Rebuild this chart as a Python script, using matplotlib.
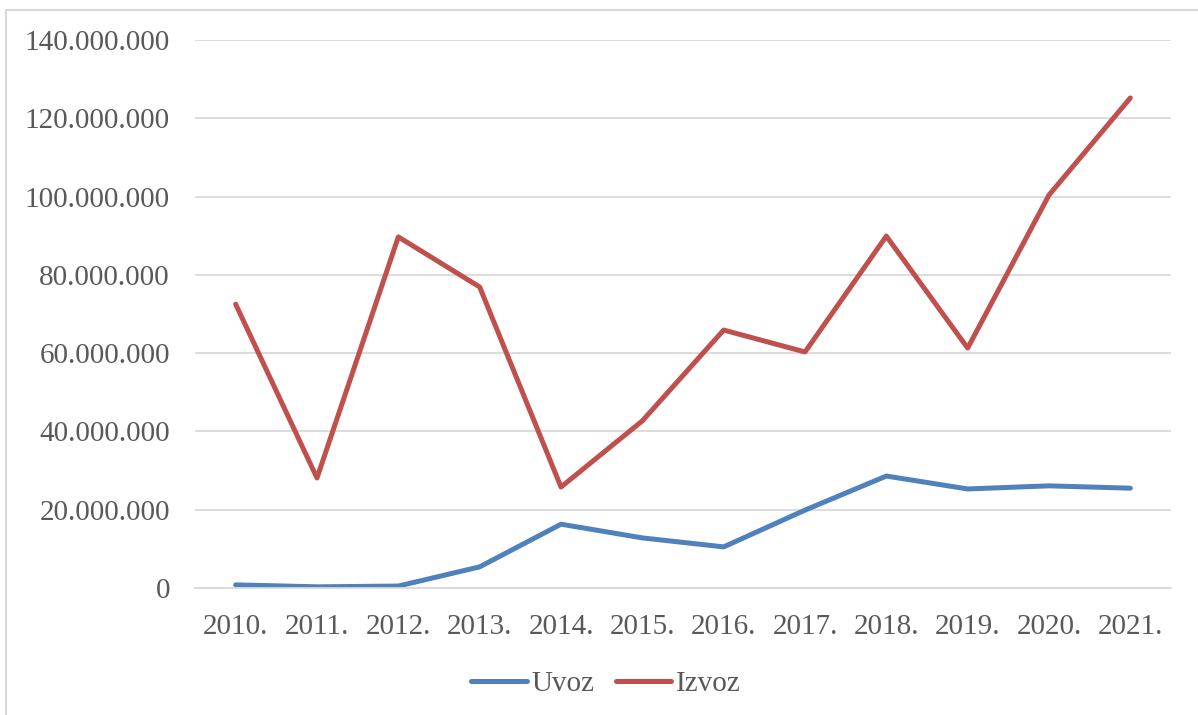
import matplotlib.pyplot as plt
from matplotlib.patches import Rectangle
from matplotlib.ticker import FuncFormatter

godine = ["2010.", "2011.", "2012.", "2013.", "2014.", "2015.",
          "2016.", "2017.", "2018.", "2019.", "2020.", "2021."]
uvoz = [0.8e6, 0.3e6, 0.5e6, 5.4e6, 16.3e6, 12.8e6,
        10.5e6, 19.9e6, 28.6e6, 25.3e6, 26.1e6, 25.5e6]
izvoz = [72.5e6, 28.1e6, 89.7e6, 76.9e6, 25.8e6, 42.7e6,
         65.9e6, 60.3e6, 89.9e6, 61.3e6, 100.4e6, 125.2e6]

plt.rcParams['font.family'] = ['Liberation Serif', 'DejaVu Serif']
txt = '#595959'

fig = plt.figure(figsize=(11.98, 7.15), dpi=100)
ax = fig.add_axes([195 / 1198, 1 - 588 / 715, 976 / 1198, 548 / 715])

x = range(len(godine))
ax.plot(x, uvoz, color='#4F81BD', lw=3.6, solid_capstyle='round', label='Uvoz')
ax.plot(x, izvoz, color='#C0504D', lw=3.6, solid_capstyle='round', label='Izvoz')

ax.set_xlim(-0.5, len(godine) - 0.5)
ax.set_ylim(0, 140e6)
ax.set_yticks(range(0, 140000001, 20000000))
ax.yaxis.set_major_formatter(FuncFormatter(lambda v, p: f"{int(v):,}".replace(",", ".")))
ax.set_xticks(list(x))
ax.set_xticklabels(godine)
ax.grid(axis='y', color='#d9d9d9', lw=1.3)
ax.set_axisbelow(True)
for s in ['top', 'right', 'left']:
    ax.spines[s].set_visible(False)
ax.spines['bottom'].set_color('#d9d9d9')
ax.spines['bottom'].set_linewidth(1.3)
ax.tick_params(length=0, labelsize=21, colors=txt)
ax.tick_params(axis='x', pad=19)
ax.tick_params(axis='y', pad=18)

leg = fig.legend(loc='center', bbox_to_anchor=(606 / 1198, 1 - 684 / 715), ncol=2,
                 frameon=False, fontsize=21, handlelength=1.9, columnspacing=0.75,
                 handletextpad=0.15)
for t in leg.get_texts():
    t.set_color(txt)

fig.patches.append(Rectangle((6 / 1198, -0.1), 1.2, 1 - 10 / 715 + 0.1,
                             transform=fig.transFigure, fill=False,
                             edgecolor='#d9d9d9', lw=1.5))

fig.savefig('out.png', dpi=100)
